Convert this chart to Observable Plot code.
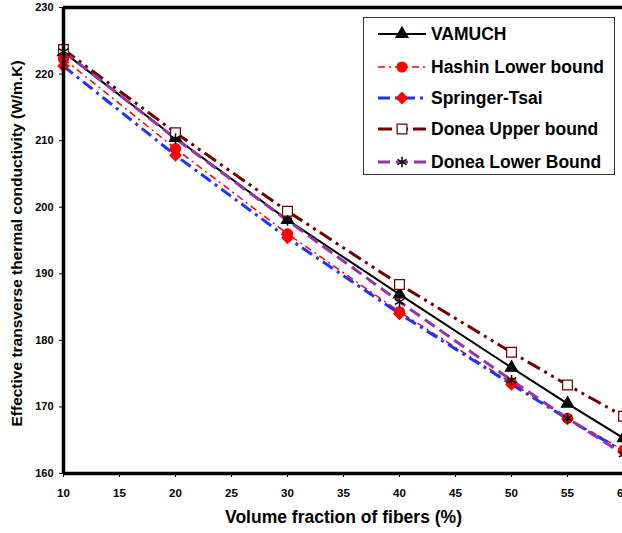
<!DOCTYPE html>
<html>
<head>
<meta charset="utf-8">
<script src="https://cdn.jsdelivr.net/npm/d3@7"></script>
<script src="https://cdn.jsdelivr.net/npm/@observablehq/plot@0.6"></script>
<style>
  html, body { margin: 0; padding: 0; background: #fff; }
  #wrap { position: relative; width: 622px; height: 533px; overflow: hidden; font-family: "Liberation Sans", Arial, sans-serif; }
  #wrap > svg { max-width: none !important; display: block; }
  #legend { position: absolute; left: 363px; top: 17px; width: 252px; height: 158px; border: 1.5px solid #333; background: #fff; box-sizing: border-box; }
  .row { position: absolute; left: 14px; display: flex; align-items: center; height: 20px; }
  .row span { font-weight: bold; font-size: 17.5px; color: #000; margin-left: 5px; white-space: nowrap; }
</style>
</head>
<body>
<div id="wrap"><div id="legend"></div></div>
<script>
// Data
const volumeFraction = [10, 20, 30, 40, 50, 55, 60];
const vamuch      = [223.3, 210.4, 198.1, 186.9, 175.9, 170.5, 165.3];
const hashinLower = [222.3, 208.8, 196.0, 184.3, 173.6, 168.3, 163.5];
const springerTsai= [221.2, 207.8, 195.4, 184.0, 173.4, 168.2, 163.3];
const doneaUpper  = [223.7, 211.2, 199.4, 188.4, 178.2, 173.3, 168.6];
const doneaLower  = [223.4, 210.3, 198.0, 185.8, 174.0, 168.3, 162.9];
const seriesNames = ["VAMUCH", "Hashin Lower bound", "Springer-Tsai", "Donea Upper bound", "Donea Lower Bound"];
const seriesValues = [vamuch, hashinLower, springerTsai, doneaUpper, doneaLower];
const xTicks = [10, 15, 20, 25, 30, 35, 40, 45, 50, 55, 60];
const yTicks = [160, 170, 180, 190, 200, 210, 220, 230];
const xMin = 10, xMax = 60, yMin = 160, yMax = 230;

// Styles
const styles = {
  "VAMUCH": {stroke: "#000000", width: 2, dash: null, symbol: "triangle", fill: "#000", mstroke: "#000", r: 4.5},
  "Hashin Lower bound": {stroke: "#ff0000", width: 1.5, dash: "7,4,2,4", symbol: "circle", fill: "#ff0000", mstroke: "#ff0000", r: 5},
  "Springer-Tsai": {stroke: "#1a33ff", width: 3, dash: "12,5,3,5", symbol: "diamond2", fill: "#ff0000", mstroke: "#ff0000", r: 5},
  "Donea Upper bound": {stroke: "#6e0000", width: 3, dash: "14,5,3,5,3,5", symbol: "square", fill: "#ffffff", mstroke: "#6e0000", r: 5.5},
  "Donea Lower Bound": {stroke: "#9933aa", width: 3, dash: "12,6", symbol: "asterisk", fill: "none", mstroke: "#000", r: 5}
};

const rows = [];
seriesNames.forEach((name, i) => {
  volumeFraction.forEach((x, j) => rows.push({series: name, x, y: seriesValues[i][j]}));
});

const marks = [];
seriesNames.forEach(name => {
  const s = styles[name];
  marks.push(Plot.line(rows.filter(d => d.series === name), {
    x: "x", y: "y", stroke: s.stroke, strokeWidth: s.width,
    strokeDasharray: s.dash || undefined, strokeLinecap: "butt"
  }));
});
seriesNames.forEach(name => {
  const s = styles[name];
  marks.push(Plot.dot(rows.filter(d => d.series === name), {
    x: "x", y: "y", symbol: () => s.symbol, r: s.r,
    fill: s.fill, stroke: s.mstroke, strokeWidth: s.symbol === "asterisk" ? 1.5 : 1.2
  }));
});

const chart = Plot.plot({
  width: 650,
  height: 533,
  marginLeft: 63,
  marginRight: 27,
  marginTop: 7,
  marginBottom: 60,
  style: {fontFamily: "'Liberation Sans', Arial, sans-serif", color: "#000", background: "#fff", overflow: "visible"},
  x: {domain: [xMin, xMax]},
  y: {domain: [yMin, yMax]},
  symbol: {type: "identity"},
  marks: [
    Plot.axisX({ticks: xTicks, tickSize: 4, tickPadding: 11, fontWeight: "bold", fontSize: 11.5, label: null, tickFormat: d => String(d)}),
    Plot.axisY({ticks: yTicks, tickSize: 4, tickPadding: 6, fontWeight: "bold", fontSize: 11, label: null, tickFormat: d => String(d)}),
    ...marks,
    Plot.ruleY([yMin, yMax], {stroke: "#000", strokeWidth: 3.5}),
    Plot.ruleX([xMin], {stroke: "#000", strokeWidth: 3.5}),
    Plot.text(["Volume fraction of fibers (%)"], {frameAnchor: "bottom", dy: 49, fontSize: 17.5, fontWeight: "bold", fill: "#000", textAnchor: "middle"}),
    Plot.text(["Effective transverse thermal conductivity (W/m.K)"], {frameAnchor: "left", dx: -46, dy: 3, rotate: -90, fontSize: 15.5, fontWeight: "bold", fill: "#000", textAnchor: "middle"})
  ]
});
chart.style.maxWidth = "none";
document.getElementById("wrap").prepend(chart);

// Legend
const legend = document.getElementById("legend");
const rowTops = [6, 39, 70, 101, 134];
seriesNames.forEach((name, i) => {
  const s = styles[name];
  const row = document.createElement("div");
  row.className = "row";
  row.style.top = rowTops[i] + "px";
  const ns = "http://www.w3.org/2000/svg";
  const svg = document.createElementNS(ns, "svg");
  svg.setAttribute("width", 48); svg.setAttribute("height", 20);
  const ln = document.createElementNS(ns, "line");
  ln.setAttribute("x1", 0); ln.setAttribute("x2", 48); ln.setAttribute("y1", 10); ln.setAttribute("y2", 10);
  ln.setAttribute("stroke", s.stroke); ln.setAttribute("stroke-width", s.width);
  if (s.dash) ln.setAttribute("stroke-dasharray", s.dash);
  svg.appendChild(ln);
  const sym = {triangle: d3.symbolTriangle, circle: d3.symbolCircle, diamond2: d3.symbolDiamond2, square: d3.symbolSquare, asterisk: d3.symbolAsterisk}[s.symbol];
  const p = document.createElementNS(ns, "path");
  p.setAttribute("d", d3.symbol(sym, s.r * s.r * Math.PI)());
  p.setAttribute("transform", "translate(24,10)");
  p.setAttribute("fill", s.fill); p.setAttribute("stroke", s.mstroke);
  p.setAttribute("stroke-width", s.symbol === "asterisk" ? 1.5 : 1.2);
  svg.appendChild(p);
  row.appendChild(svg);
  const t = document.createElement("span");
  t.textContent = name;
  row.appendChild(t);
  legend.appendChild(row);
});
</script>
</body>
</html>
